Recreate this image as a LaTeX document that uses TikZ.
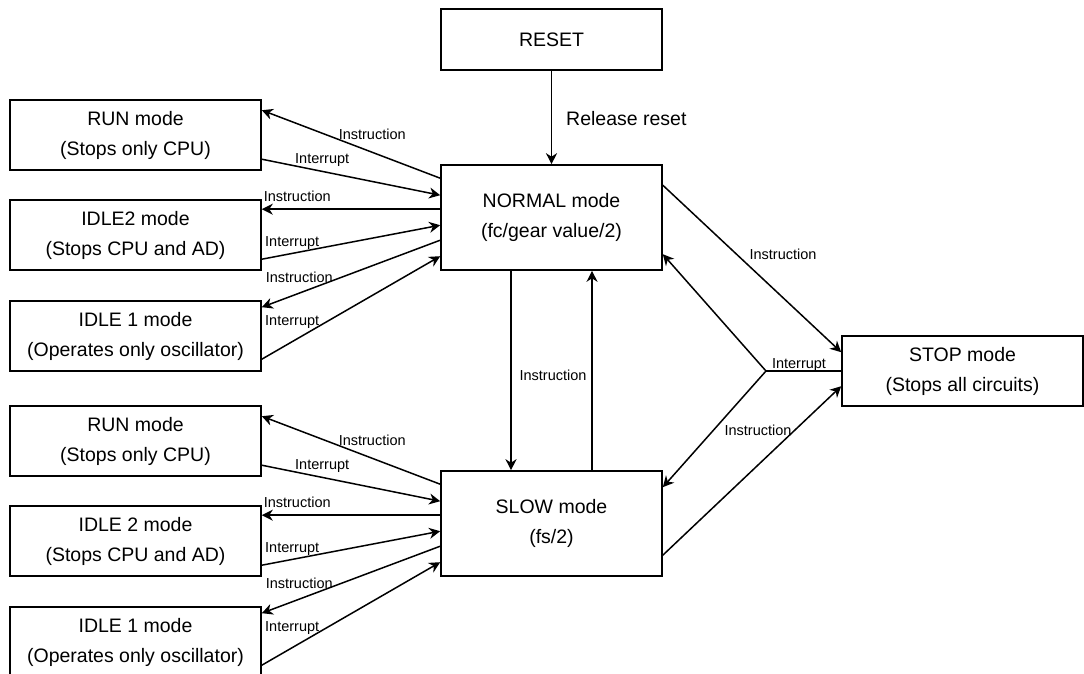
\documentclass[tikz,border=0pt]{standalone}
\usepackage{fontspec}
\setmainfont{Liberation Sans}
\usetikzlibrary{arrows.meta,calc}
\begin{document}
\begin{tikzpicture}[x=1pt,y=-1pt,
  box/.style={draw, line width=1.6pt, inner sep=0pt, align=center,
    font=\fontsize{19.5}{30}\selectfont},
  side/.style={box, minimum width=251pt, minimum height=70pt},
  modebox/.style={box, minimum width=221pt, minimum height=105pt},
  conn/.style={line width=1.5pt},
  arr/.style={conn, -{Stealth[length=11pt,width=11pt,inset=3.5pt]}},
  lbl/.style={font=\fontsize{14.5}{16}\selectfont, inner sep=0pt},
  txt/.style={font=\fontsize{19.5}{30}\selectfont, inner sep=0pt},
]
\useasboundingbox[fill=white] (0,0) rectangle (1084,673);
\clip (0,0) rectangle (1084,673);

% main operating modes
\node[box, minimum width=221pt, minimum height=61pt] (reset) at (551.5,39.5) {RESET};
\node[modebox] (normal) at (551.5,217.5) {NORMAL mode\\(fc/gear value/2)};
\node[modebox] (slow) at (551.5,523.5) {SLOW mode\\(fs/2)};
\node[box, minimum width=241pt, minimum height=70pt] (stop) at (962.5,371)
  {STOP mode\\(Stops all circuits)};

% standby modes reached from NORMAL
\node[side] (runA) at (135.5,135) {RUN mode\\(Stops only CPU)};
\node[side] (idletwoA) at (135.5,235) {IDLE2 mode\\(Stops CPU and AD)};
\node[side] (idleoneA) at (135.5,336) {IDLE 1 mode\\(Operates only oscillator)};

% standby modes reached from SLOW
\node[side] (runB) at (135.5,441) {RUN mode\\(Stops only CPU)};
\node[side] (idletwoB) at (135.5,541) {IDLE 2 mode\\(Stops CPU and AD)};
\node[side] (idleoneB) at (135.5,642) {IDLE 1 mode\\(Operates only oscillator)};

% reset release
\draw[arr] (reset) -- (normal);
\node[txt, anchor=west] (rel) at (566,119) {Release reset};

% transitions between a main mode and its standby modes
\foreach \mA/\mR/\mT/\mO in {normal/runA/idletwoA/idleoneA, slow/runB/idletwoB/idleoneB} {
  \draw[arr] ($(\mA.north west)+(0,14)$) -- ($(\mR.north east)+(0,11)$);
  \draw[arr] ($(\mR.north east)+(0,60)$) -- ($(\mA.north west)+(0,31)$);
  \draw[arr] ($(\mA.north west)+(0,45)$) -- ($(\mT.north east)+(0,10)$);
  \draw[arr] ($(\mT.north east)+(0,60)$) -- ($(\mA.north west)+(0,61)$);
  \draw[arr] ($(\mA.north west)+(0,76)$) -- ($(\mO.north east)+(0,7)$);
  \draw[arr] ($(\mO.north east)+(0,59)$) -- ($(\mA.north west)+(0,92)$);
  \node[lbl] (\mA-l1) at ($(\mA.north west)+(-68,-30)$) {Instruction};
  \node[lbl] (\mA-l2) at ($(\mA.north west)+(-118,-4.5)$) {Interrupt};
  \node[lbl] (\mA-l3) at ($(\mA.north west)+(-143,32)$) {Instruction};
  \node[lbl] (\mA-l4) at ($(\mA.north west)+(-148,78.5)$) {Interrupt};
  \node[lbl] (\mA-l5) at ($(\mA.north west)+(-141,113)$) {Instruction};
  \node[lbl] (\mA-l6) at ($(\mA.north west)+(-148,157.5)$) {Interrupt};
}

% NORMAL <-> SLOW
\draw[arr] ([xshift=-40.5pt]normal.south) -- ([xshift=-40.5pt]slow.north);
\draw[arr] ([xshift=40.5pt]slow.north) -- ([xshift=40.5pt]normal.south);
\node[lbl] (ns) at (553,375) {Instruction};

% STOP transitions
\coordinate (fork) at (766,371);
\draw[arr] ($(normal.north east)+(0,21)$) -- ($(stop.north west)+(0,17)$);
\draw[conn] (stop.west) -- (fork);
\draw[arr] (fork) -- ($(normal.north east)+(0,90)$);
\draw[arr] (fork) -- ($(slow.north east)+(0,17)$);
\draw[arr] ($(slow.north east)+(0,85)$) -- ($(stop.north west)+(0,51)$);
\node[lbl] (ts) at (783,254) {Instruction};
\node[lbl] (ti) at (799,365.5) {Interrupt};
\node[lbl] (tl) at (758,430) {Instruction};
\end{tikzpicture}
\end{document}
